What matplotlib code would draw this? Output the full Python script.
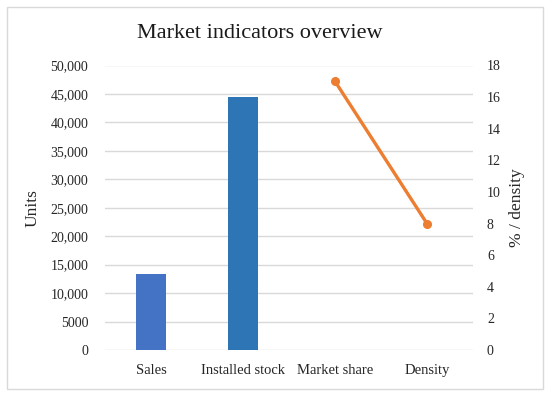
import numpy as np
import matplotlib
matplotlib.use("Agg")
import matplotlib.pyplot as plt
from matplotlib.patches import Rectangle
from matplotlib.ticker import FuncFormatter

# -------------------- Data --------------------
categories = ["Sales", "Installed stock", "Market share", "Density"]
bar_values = [13400, 44500]           # Units (left axis)
bar_colors = ["#4472C4", "#2E75B6"]
line_values = [17, 8]                 # % / density (right axis)
line_idx = [2, 3]

plt.rcParams["font.family"] = ["Liberation Serif", "DejaVu Serif"]

fig = plt.figure(figsize=(5.5, 3.96), dpi=100)
ax = fig.add_axes([105 / 550, 1 - 350 / 396, 368 / 550, 284.5 / 396])
ax2 = ax.twinx()

x = np.arange(len(categories))
ax.bar(x[:2], bar_values, width=0.32, color=bar_colors, zorder=3)
ax2.plot(x[line_idx], line_values, color="#ED7D31", lw=2.4, marker="o",
         ms=5.5, zorder=4)

ax.set_xlim(-0.5, 3.5)
ax.set_ylim(0, 50000)
ax.set_yticks(np.arange(0, 50001, 5000))
ax.yaxis.set_major_formatter(FuncFormatter(
    lambda v, p: f"{int(v):,}" if v >= 10000 else f"{int(v)}"))
ax2.set_ylim(0, 18)
ax2.set_yticks(np.arange(0, 19, 2))

ax.set_xticks(x)
ax.set_xticklabels(categories, fontsize=10.5)
ax.grid(axis="y", color="#D9D9D9", lw=1, zorder=0)
for a in (ax, ax2):
    for s in a.spines.values():
        s.set_visible(False)
    a.tick_params(length=0, labelsize=10, colors="#262626")
ax.tick_params(axis="x", labelsize=10.5, pad=10)
ax.tick_params(axis="y", pad=12)
ax2.tick_params(axis="y", pad=10)

ax.set_ylabel("Units", fontsize=12.5, color="#262626", labelpad=7)
ax2.set_ylabel("% / density", fontsize=12.5, color="#262626", labelpad=6)

fig.text(260 / 550, 1 - 33 / 396, "Market indicators overview",
         ha="center", va="center", fontsize=16, color="#1a1a1a")

# chart border
fig.patches.append(Rectangle((7 / 550, 7 / 396), 536 / 550, 382 / 396,
                             transform=fig.transFigure, fill=False,
                             edgecolor="#D9D9D9", lw=1))

fig.savefig("out.png", dpi=100)
